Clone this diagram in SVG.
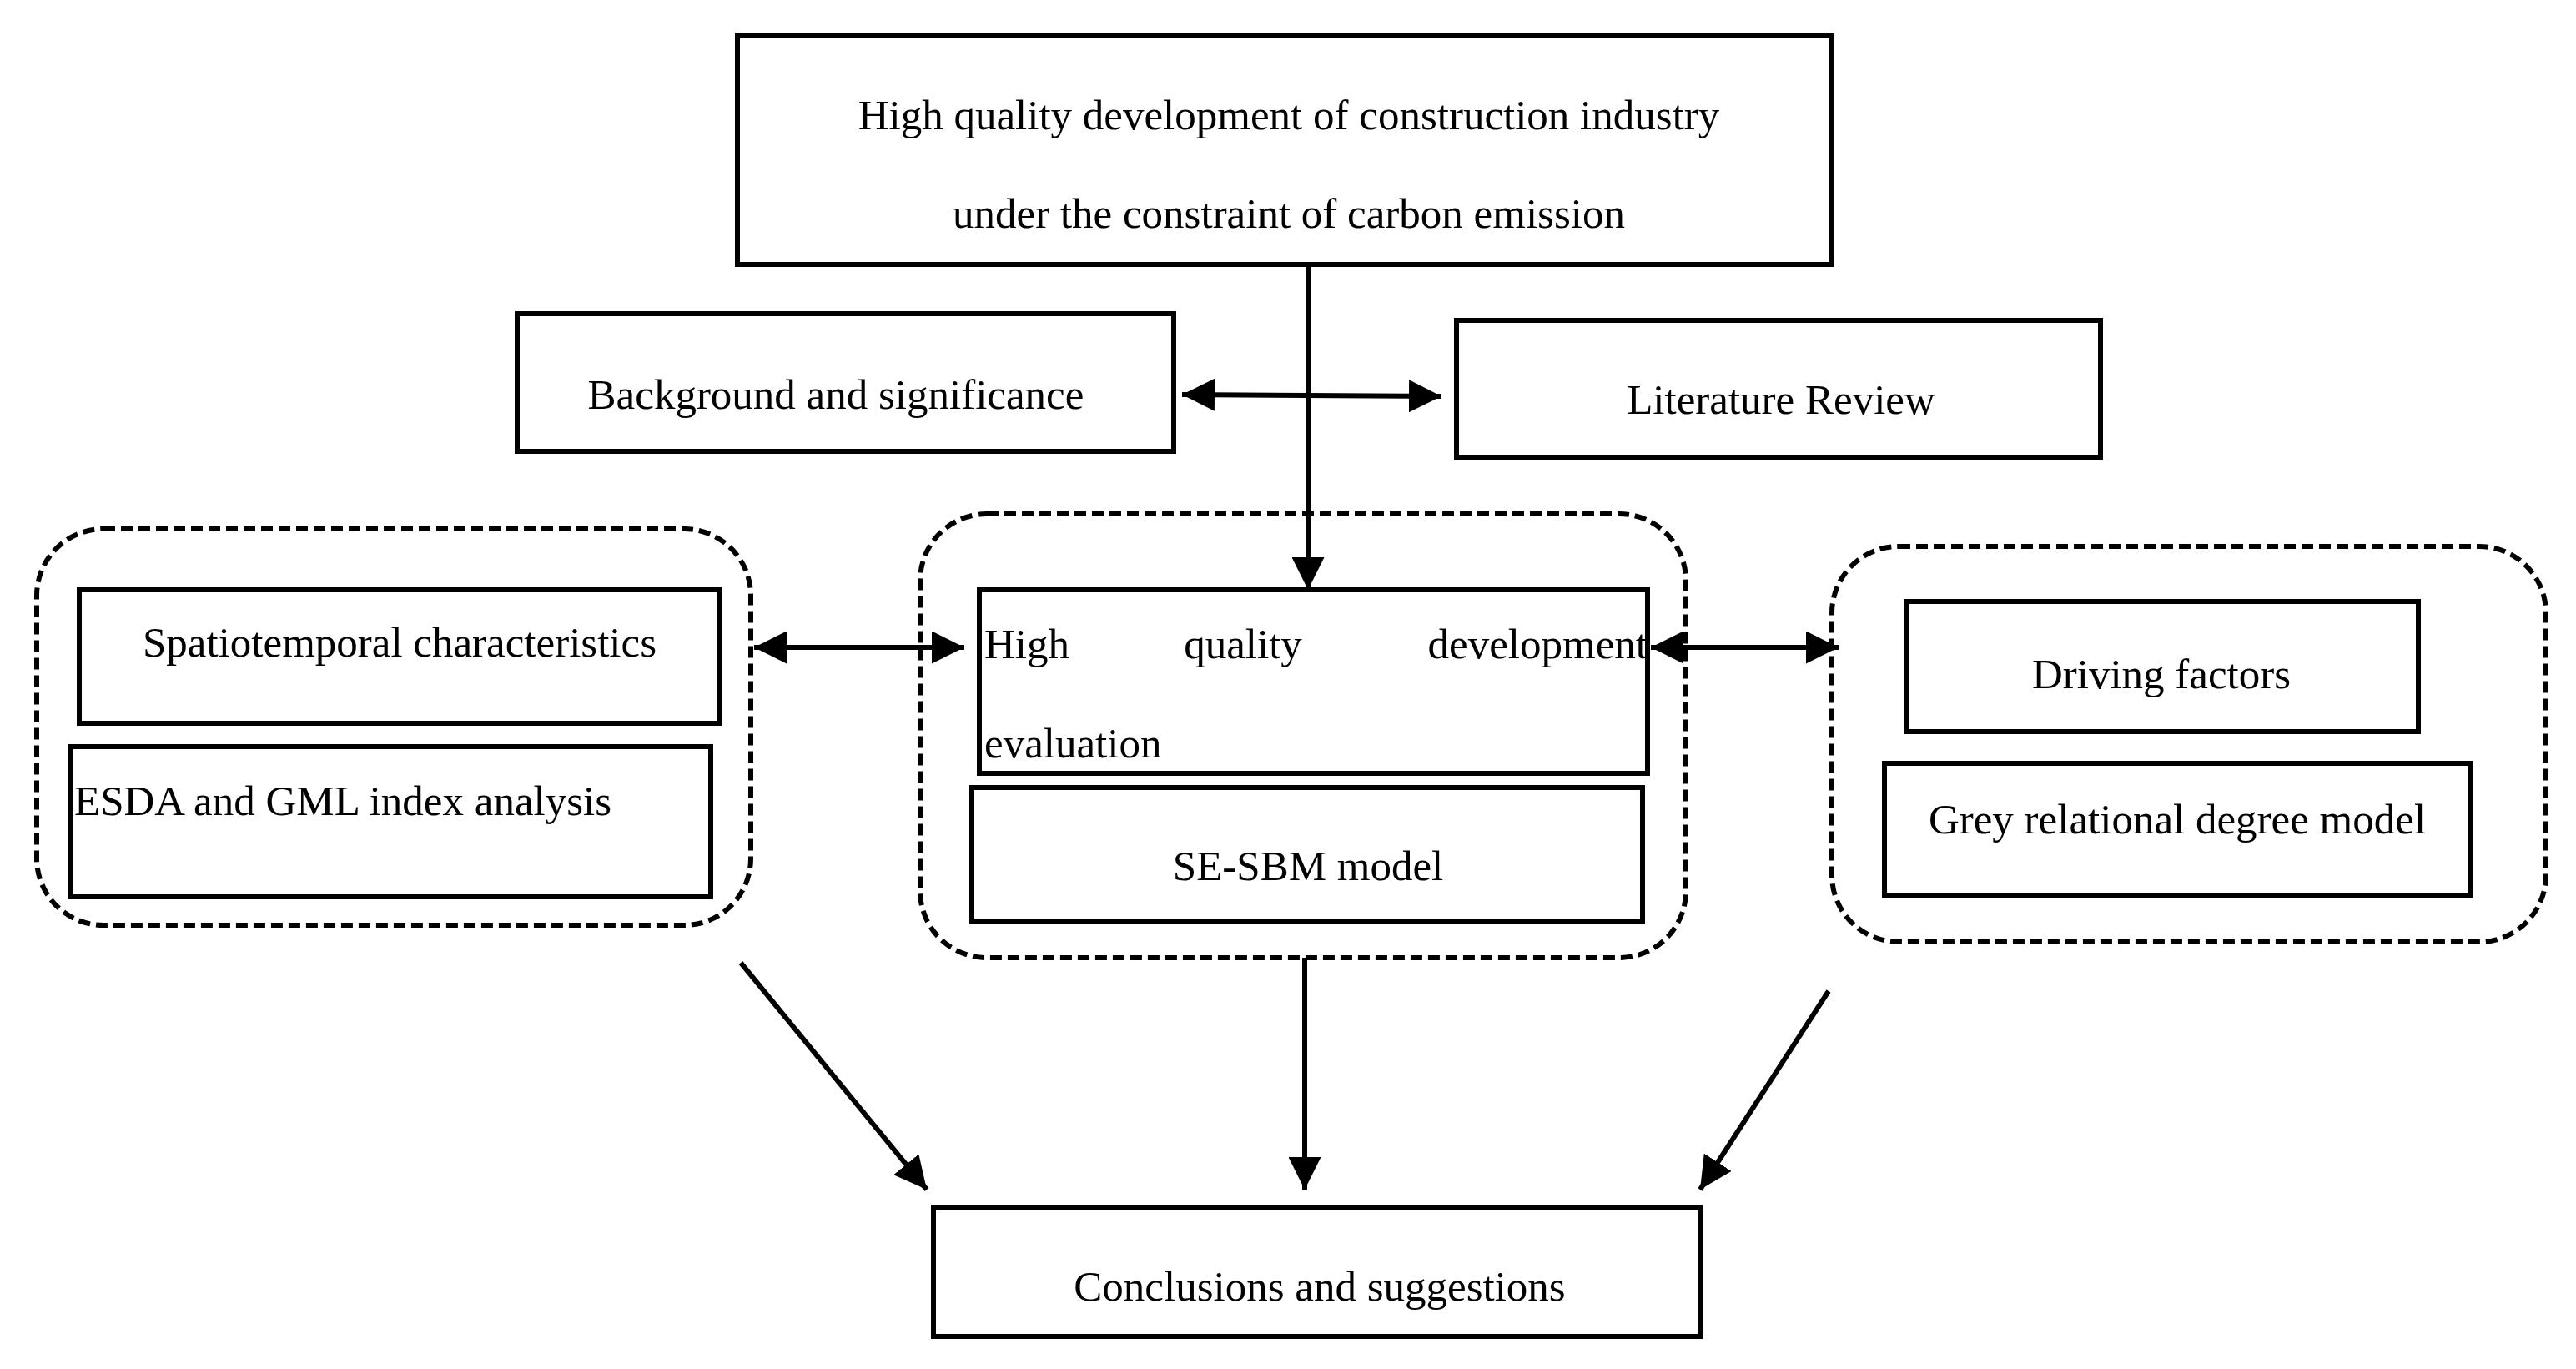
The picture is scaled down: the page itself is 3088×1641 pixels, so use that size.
<svg xmlns="http://www.w3.org/2000/svg" width="3088" height="1641" viewBox="0 0 3088 1641">
<style>
.b{fill:none;stroke:#000;stroke-width:6}
.d{fill:none;stroke:#000;stroke-width:6;stroke-dasharray:14 7}
text{font-family:"Liberation Serif",serif;font-size:51px;fill:#000}
.c{text-anchor:middle}
.l{fill:none;stroke:#000;stroke-width:6}
</style>
<defs>
<marker id="a" viewBox="0 0 10 10" refX="10" refY="5" markerWidth="6.5" markerHeight="6.5" orient="auto-start-reverse" markerUnits="strokeWidth"><path d="M0,0L10,5L0,10z" fill="#000"/></marker>
</defs>
<rect width="3088" height="1641" fill="#fff"/>
<g id="top"><rect class="b" x="884" y="42" width="1312" height="275"/><text class="c" x="1545" y="155">High quality development of construction industry</text><text class="c" x="1545" y="273">under the constraint of carbon emission</text></g>
<g id="bg"><rect class="b" x="620" y="376" width="787" height="165"/><text class="c" x="1002" y="490">Background and significance</text></g>
<g id="lit"><rect class="b" x="1746" y="384" width="772" height="164"/><text class="c" x="2135" y="496">Literature Review</text></g>
<g id="left"><rect class="d" x="44" y="634" width="856" height="475" rx="80"/>
<rect class="b" x="95" y="707" width="767" height="160"/><text class="c" x="479" y="787">Spatiotemporal characteristics</text>
<rect class="b" x="85" y="895" width="767" height="180"/><text x="89" y="977">ESDA and GML index analysis</text></g>
<g id="center"><rect class="d" x="1103" y="616" width="918" height="532" rx="80"/>
<rect class="b" x="1174" y="707" width="801" height="220"/><text x="1180" y="789">High</text><text class="c" x="1490" y="789">quality</text><text x="1975" y="789" text-anchor="end">development</text><text x="1180" y="908">evaluation</text>
<rect class="b" x="1164" y="944" width="805" height="161"/><text class="c" x="1568" y="1055">SE-SBM model</text></g>
<g id="right"><rect class="d" x="2196" y="655" width="856" height="474" rx="80"/>
<rect class="b" x="2285" y="721" width="614" height="156"/><text class="c" x="2591" y="825">Driving factors</text>
<rect class="b" x="2259" y="915" width="702" height="158"/><text class="c" x="2610" y="999">Grey relational degree model</text></g>
<g id="concl"><rect class="b" x="1119" y="1447" width="920" height="155"/><text class="c" x="1582" y="1559">Conclusions and suggestions</text></g>
<g id="connectors">
<line class="l" x1="1568" y1="317" x2="1568" y2="707" marker-end="url(#a)"/>
<line class="l" x1="1417" y1="473" x2="1728" y2="475" marker-start="url(#a)" marker-end="url(#a)"/>
<line class="l" x1="904" y1="776" x2="1156" y2="776" marker-start="url(#a)" marker-end="url(#a)"/>
<line class="l" x1="1979" y1="776" x2="2204" y2="776" marker-start="url(#a)" marker-end="url(#a)"/>
<line class="l" x1="888" y1="1154" x2="1111" y2="1426" marker-end="url(#a)"/>
<line class="l" x1="1564" y1="1148" x2="1564" y2="1426" marker-end="url(#a)"/>
<line class="l" x1="2192" y1="1188" x2="2038" y2="1426" marker-end="url(#a)"/>
</g>
</svg>
